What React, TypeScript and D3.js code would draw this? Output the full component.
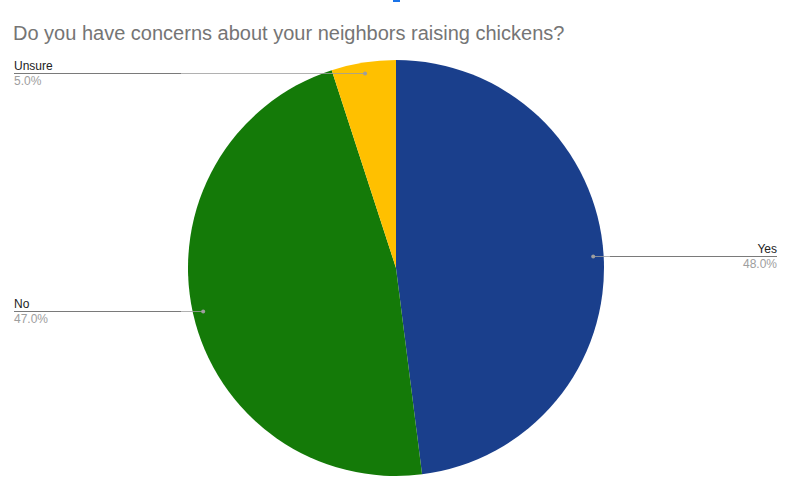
import { useEffect, useRef } from 'react'
import * as d3 from 'd3'

const title = 'Do you have concerns about your neighbors raising chickens?'
const categories = ['Yes', 'No', 'Unsure']
const values = [48, 47, 5]
const sliceColors = ['#1a3f8c', '#147a08', '#ffc000']

const width = 786
const height = 496

export default function App() {
  const svgRef = useRef<SVGSVGElement>(null)

  useEffect(() => {
    document.body.style.margin = '0'
    if (!svgRef.current) return

    const svg = d3.select(svgRef.current)
    svg.selectAll('*').remove()

    const font = '"Liberation Sans", Arial, sans-serif'
    const cx = 396
    const cy = 268
    const radius = 208
    const total = d3.sum(values)

    svg.append('rect').attr('width', width).attr('height', height).attr('fill', '#fff')

    // little blue marker at the very top
    svg.append('rect')
      .attr('x', 393).attr('y', 0)
      .attr('width', 7).attr('height', 2)
      .attr('fill', '#1a73e8')

    svg.append('text')
      .attr('x', 13)
      .attr('y', 40)
      .attr('fill', '#757575')
      .attr('font-family', font)
      .attr('font-size', '20px')
      .text(title)

    const data = categories.map((c, i) => ({ name: c, value: values[i], color: sliceColors[i] }))

    const pie = d3.pie<typeof data[0]>().sort(null).value(d => d.value)
    const arcs = pie(data)

    const arc = d3.arc<d3.PieArcDatum<typeof data[0]>>()
      .innerRadius(0)
      .outerRadius(radius)

    const dotArc = d3.arc<d3.PieArcDatum<typeof data[0]>>()
      .innerRadius(radius * 0.95)
      .outerRadius(radius * 0.95)

    const g = svg.append('g').attr('transform', `translate(${cx},${cy})`)

    g.selectAll('path.slice')
      .data(arcs)
      .enter()
      .append('path')
      .attr('class', 'slice')
      .attr('d', arc)
      .attr('fill', d => d.data.color)

    // leader lines and labels
    const underline = 167
    arcs.forEach(d => {
      const [dx, dy] = dotArc.centroid(d)
      const px = cx + dx
      const py = Math.round(cy + dy) + 0.5
      const right = dx > 0
      const labelX = right ? 777 : 14
      const ulEnd = right ? labelX - underline : labelX + underline

      svg.append('line')
        .attr('x1', ulEnd).attr('x2', px)
        .attr('y1', py).attr('y2', py)
        .attr('stroke', '#9e9e9e')
        .attr('stroke-opacity', 0.8)
        .attr('stroke-width', 1)

      svg.append('line')
        .attr('x1', labelX).attr('x2', ulEnd)
        .attr('y1', py).attr('y2', py)
        .attr('stroke', '#7a7a7a')
        .attr('stroke-width', 1)

      svg.append('circle')
        .attr('cx', px).attr('cy', py)
        .attr('r', 2)
        .attr('fill', '#9e9e9e')

      svg.append('text')
        .attr('x', labelX)
        .attr('y', py - 4)
        .attr('text-anchor', right ? 'end' : 'start')
        .attr('fill', '#222')
        .attr('font-family', font)
        .attr('font-size', '12px')
        .text(d.data.name)

      svg.append('text')
        .attr('x', labelX)
        .attr('y', py + 11)
        .attr('text-anchor', right ? 'end' : 'start')
        .attr('fill', '#9e9e9e')
        .attr('font-family', font)
        .attr('font-size', '12px')
        .text(`${((d.data.value / total) * 100).toFixed(1)}%`)
    })
  }, [])

  return <svg ref={svgRef} width={width} height={height} style={{ display: 'block' }} />
}
